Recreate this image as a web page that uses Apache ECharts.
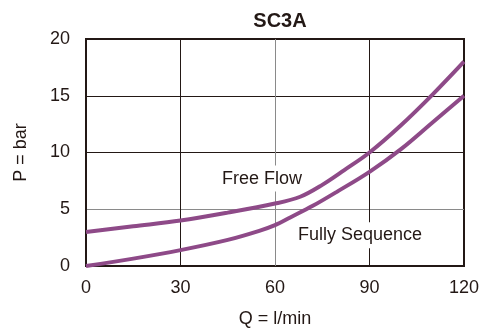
<!DOCTYPE html>
<html><head><meta charset="utf-8">
<script src="https://cdn.jsdelivr.net/npm/echarts@6/dist/echarts.min.js"></script>
<style>html,body{margin:0;padding:0;background:#fff}#c{width:487px;height:336px}</style>
</head><body><div id="c"></div>
<script>
var titleText = 'SC3A';
var xTicks = [0, 30, 60, 90, 120];
var yTicks = [0, 5, 10, 15, 20];
var qFree = [0, 15, 30, 45, 60, 68, 75, 82, 90, 100, 110, 120];
var pFree = [3.0, 3.5, 4.0, 4.7, 5.5, 6.1, 7.15, 8.45, 10.0, 12.4, 15.1, 18.0];
var qSeq = [0, 15, 30, 45, 55, 60, 65, 72, 80, 90, 100, 110, 120];
var pSeq = [0, 0.65, 1.4, 2.3, 3.1, 3.6, 4.3, 5.3, 6.6, 8.3, 10.3, 12.65, 15.0];
var labelFree = 'Free Flow';
var labelSeq = 'Fully Sequence';
var labelFreeAt = [55.9, 7.7];
var labelSeqAt = [87, 2.7];

function pairs(xs, ys){ return xs.map(function(x,i){ return [x, ys[i]]; }); }
var dark = '#231815', gray = '#8a8a8a', purple = '#8e4a88';
var font = '"Liberation Sans", Arial, Helvetica, sans-serif';

var chart = echarts.init(document.getElementById('c'), null, {renderer:'canvas'});
chart.setOption({
  animation: false,
  backgroundColor: '#fff',
  title: { text: titleText, left: 275, top: 6, textAlign: 'center',
    textStyle: { fontFamily: font, fontSize: 20, fontWeight: 'bold', color: dark } },
  grid: { left: 86, right: 23, top: 39, bottom: 70, show: true, borderColor: dark, borderWidth: 2 },
  xAxis: { type: 'value', min: xTicks[0], max: xTicks[xTicks.length-1], interval: 30,
    name: 'Q = l/min', nameLocation: 'middle', nameGap: 44,
    nameTextStyle: { fontFamily: font, fontSize: 18, fontWeight: 500, color: dark },
    axisLine: { show: false }, axisTick: { show: false },
    axisLabel: { fontFamily: font, fontSize: 18, color: dark, margin: 13 },
    splitLine: { show: true, lineStyle: { color: [dark, dark, gray, dark, dark], width: 1 } } },
  yAxis: { type: 'value', min: yTicks[0], max: yTicks[yTicks.length-1], interval: 5,
    name: 'P = bar', nameLocation: 'middle', nameGap: 56,
    nameTextStyle: { fontFamily: font, fontSize: 18, fontWeight: 500, color: dark },
    axisLine: { show: false }, axisTick: { show: false },
    axisLabel: { fontFamily: font, fontSize: 18, color: dark, margin: 16 },
    splitLine: { show: true, lineStyle: { color: [dark, gray, dark, dark, dark], width: 1 } } },
  series: [
    { type: 'line', data: pairs(qFree, pFree), smooth: 0.35, showSymbol: false,
      lineStyle: { color: purple, width: 4 }, z: 3,
      markPoint: { symbol: 'rect', symbolSize: 0, silent: true,
        data: [{ coord: labelFreeAt, label: { show: true, formatter: labelFree, position: 'inside',
          fontFamily: font, fontSize: 18, color: dark, backgroundColor: '#fff', padding: [4, 2] } }] } },
    { type: 'line', data: pairs(qSeq, pSeq), smooth: 0.35, showSymbol: false,
      lineStyle: { color: purple, width: 4 }, z: 3,
      markPoint: { symbol: 'rect', symbolSize: 0, silent: true,
        data: [{ coord: labelSeqAt, label: { show: true, formatter: labelSeq, position: 'inside',
          fontFamily: font, fontSize: 18, color: dark, backgroundColor: '#fff', padding: [4, 2] } }] } }
  ]
});
</script></body></html>
